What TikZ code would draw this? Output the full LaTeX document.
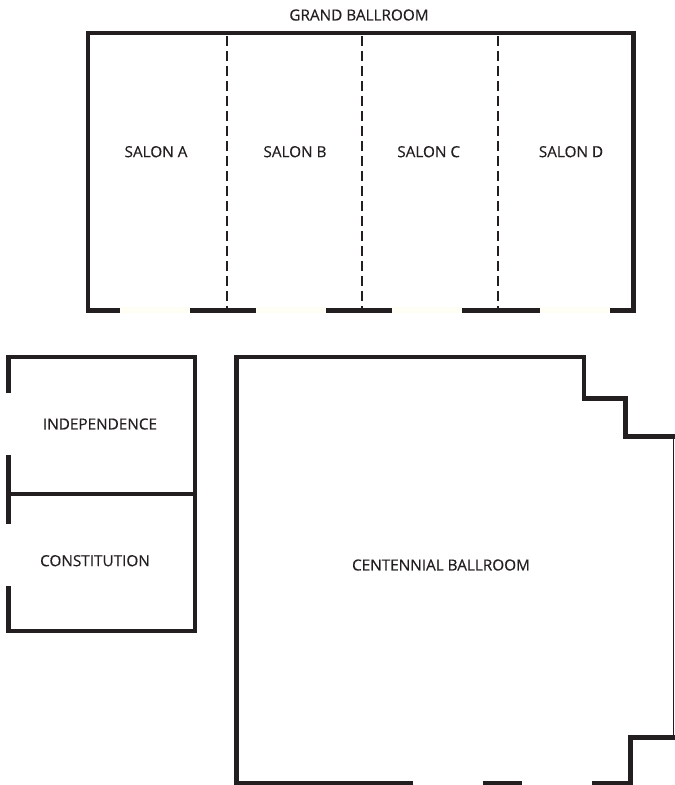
\documentclass[tikz,border=0pt]{standalone}
\usepackage{fontspec}
\setmainfont{Open Sans}[RawFeature={embolden=0.4}]
\definecolor{wallcol}{HTML}{231F20}
\definecolor{doorcol}{HTML}{FFFEF4}
\tikzset{
  wall/.style={draw=wallcol, line width=4.7pt, line cap=butt, line join=miter},
  thinwall/.style={draw=wallcol, line width=1.6pt},
  partition/.style={draw=wallcol, line width=2.2pt, dash pattern=on 10pt off 5pt},
  door/.style={draw=doorcol, line width=6pt},
  roomlabel/.style={text=wallcol, font=\fontsize{15.3}{18}\selectfont, inner sep=0pt}
}
\begin{document}
\begin{tikzpicture}[x=1pt, y=-1pt]
    \useasboundingbox (0,0) rectangle (675,785);
    % Grand ballroom
    \draw[door] (120,310.3) -- (190,310.3);
    \draw[door] (256,310.3) -- (326,310.3);
    \draw[door] (392,310.3) -- (462,310.3);
    \draw[door] (540,310.3) -- (610,310.3);
    \draw[wall] (120,310.3) -- (88,310.3) -- (88,33) -- (633.7,33) -- (633.7,310.3) -- (610,310.3);
    \draw[wall] (190,310.3) -- (256,310.3);
    \draw[wall] (326,310.3) -- (392,310.3);
    \draw[wall] (462,310.3) -- (540,310.3);
    \foreach \px in {226.7,361.7,498.3}
        \draw[partition] (\px,36) -- (\px,308);
    % Small rooms
    \draw[wall] (8.3,393.3) -- (8.3,357) -- (195,357) -- (195,631) -- (8.3,631) -- (8.3,585.7);
    \draw[wall] (8.3,455) -- (8.3,524);
    \draw[wall] (8.3,494) -- (195,494);
    % Centennial ballroom
    \draw[wall] (413.3,783) -- (236.7,783) -- (236.7,357) -- (584,357) -- (584,398.7)
        -- (625.7,398.7) -- (625.7,436.3) -- (675,436.3);
    \draw[thinwall] (673.6,435) -- (673.6,738.5);
    \draw[wall] (675,737.3) -- (630.3,737.3) -- (630.3,783) -- (592,783);
    \draw[wall] (482.7,783) -- (522.3,783);
    % Labels
    \node[roomlabel] (grand) at (359,15) {GRAND BALLROOM};
    \node[roomlabel] (salona) at (156,151.7) {SALON A};
    \node[roomlabel] (salonb) at (295,151.7) {SALON B};
    \node[roomlabel] (salonc) at (428.7,151.7) {SALON C};
    \node[roomlabel] (salond) at (571,151.7) {SALON D};
    \node[roomlabel] (indep) at (100,424) {INDEPENDENCE};
    \node[roomlabel] (constit) at (95,560.7) {CONSTITUTION};
    \node[roomlabel] (centennial) at (441,565) {CENTENNIAL BALLROOM};
\end{tikzpicture}
\end{document}
